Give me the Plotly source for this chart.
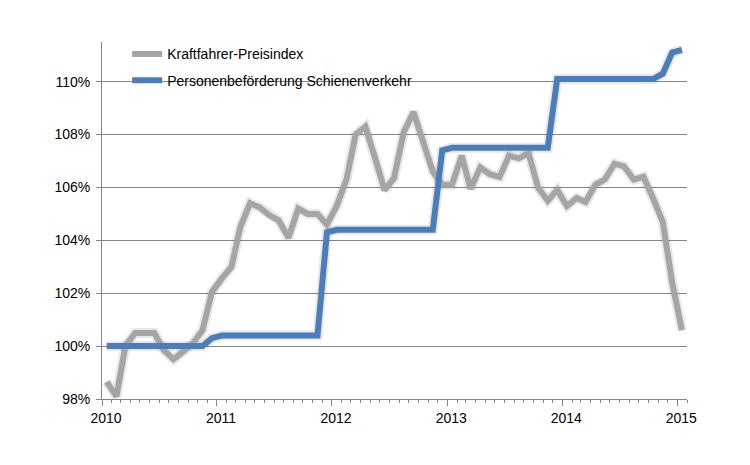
import plotly.graph_objects as go
import pandas as pd

# Monthly values, Jan 2010 .. Jan 2015 (index, %)
months = pd.date_range("2010-01-01", "2015-01-01", freq="MS") + pd.Timedelta(days=15)

kraftfahrer = [
    98.65, 98.1, 100.0, 100.5, 100.5, 100.5, 99.85, 99.5, 99.8, 100.1, 100.6, 102.05,
    102.55, 103.0, 104.5, 105.4, 105.25, 104.95, 104.75, 104.1, 105.2, 105.0, 105.0, 104.6,
    105.3, 106.3, 108.0, 108.3, 107.15, 105.9, 106.35, 108.1, 108.85, 107.65, 106.6, 106.1,
    106.1, 107.2, 105.95, 106.75, 106.5, 106.4, 107.2, 107.1, 107.3, 106.0, 105.5, 105.9,
    105.3, 105.6, 105.45, 106.1, 106.3, 106.9, 106.8, 106.3, 106.4, 105.6, 104.7, 102.4,
    100.6,
]

schiene = [
    100.0, 100.0, 100.0, 100.0, 100.0, 100.0, 100.0, 100.0, 100.0, 100.0, 100.0, 100.3,
    100.4, 100.4, 100.4, 100.4, 100.4, 100.4, 100.4, 100.4, 100.4, 100.4, 100.4, 104.3,
    104.4, 104.4, 104.4, 104.4, 104.4, 104.4, 104.4, 104.4, 104.4, 104.4, 104.4, 107.4,
    107.5, 107.5, 107.5, 107.5, 107.5, 107.5, 107.5, 107.5, 107.5, 107.5, 107.5, 110.1,
    110.1, 110.1, 110.1, 110.1, 110.1, 110.1, 110.1, 110.1, 110.1, 110.1, 110.3, 111.1,
    111.2,
]

year_ticks = ["2010-01-01", "2011-01-01", "2012-01-01", "2013-01-01", "2014-01-01", "2015-01-01"]
year_labels = ["2010", "2011", "2012", "2013", "2014", "2015"]
y_ticks = [98, 100, 102, 104, 106, 108, 110]
y_labels = ["98%", "100%", "102%", "104%", "106%", "108%", "110%"]

names = ["Kraftfahrer-Preisindex", "Personenbeförderung Schienenverkehr"]
colors = ["#A5A5A5", "#4A7EBB"]

fig = go.Figure()

# soft shadows
for series in (kraftfahrer, schiene):
    fig.add_trace(go.Scatter(x=months, y=series, mode="lines", showlegend=False,
                             hoverinfo="skip",
                             line=dict(color="rgba(0,0,0,0.09)", width=10)))

for series, name, color in zip((kraftfahrer, schiene), names, colors):
    fig.add_trace(go.Scatter(x=months, y=series, mode="lines", name=name,
                             legendgroup=name,
                             line=dict(color=color, width=6)))

axis_col = "#868686"
fig.update_layout(
    width=750, height=465,
    margin=dict(l=94, r=71, t=34, b=74),
    paper_bgcolor="white", plot_bgcolor="white",
    font=dict(family="Liberation Sans, Arial, sans-serif", size=14, color="#000000"),
    legend=dict(x=0.043, y=1.01, xanchor="left", yanchor="top",
                bgcolor="rgba(0,0,0,0)", traceorder="grouped", tracegroupgap=5,
                font=dict(size=14)),
    xaxis=dict(
        type="date",
        range=["2010-01-01", "2015-02-01"],
        tickmode="array", tickvals=year_ticks, ticktext=year_labels,
        ticks="outside", ticklen=6, tickcolor=axis_col,
        ticklabelshift=4,
        showline=True, linecolor=axis_col, linewidth=1,
        showgrid=False, zeroline=False,
        minor=dict(dtick="M1", ticks="outside", ticklen=3, tickcolor=axis_col, showgrid=False),
    ),
    yaxis=dict(
        range=[98, 111.5],
        tickmode="array", tickvals=y_ticks, ticktext=y_labels,
        ticks="outside", ticklen=5, tickcolor=axis_col,
        ticklabelstandoff=3,
        showline=True, linecolor=axis_col, linewidth=1,
        showgrid=True, gridcolor=axis_col, gridwidth=1,
        zeroline=False,
    ),
)

fig.write_html("out.html")
